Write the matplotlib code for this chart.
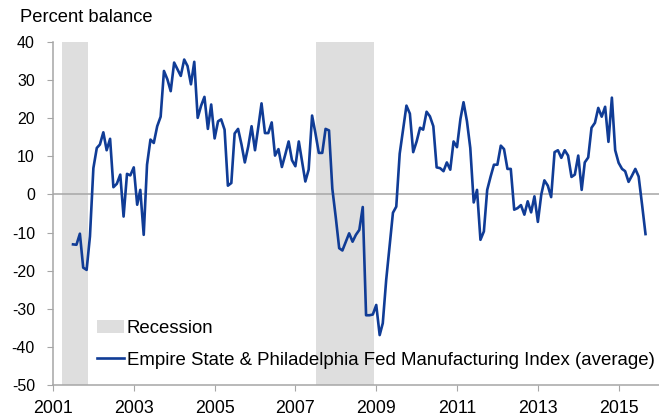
import matplotlib
matplotlib.use("Agg")
import matplotlib.pyplot as plt
import matplotlib.dates as mdates
from matplotlib.patches import Patch
from matplotlib.lines import Line2D
import pandas as pd

plt.rcParams["font.family"] = ["Liberation Sans", "DejaVu Sans"]
plt.rcParams["axes.unicode_minus"] = False

# monthly average of Empire State & Philly Fed indices, Jul 2001 - Sep 2015
start_month = "2001-07-01"
index_avg = [
    -13.1, -13.2, -10.3, -19.2, -19.8, -11.0,
    6.9, 12.2, 13.1, 16.3, 11.6, 14.6, 1.9, 2.8, 5.2, -5.8, 5.4, 5.0,
    7.1, -2.7, 1.2, -10.6, 7.8, 14.4, 13.5, 17.9, 20.4, 32.4, 30.2, 27.1,
    34.6, 32.8, 31.1, 35.4, 33.7, 28.9, 34.8, 20.1, 23.3, 25.6, 17.2, 23.6,
    14.7, 19.2, 19.7, 17.0, 2.3, 3.0, 16.0, 17.2, 13.1, 8.4, 12.6, 17.9,
    11.6, 17.9, 23.9, 16.1, 16.1, 18.9, 10.2, 11.9, 7.2, 10.4, 13.9, 9.0,
    7.4, 13.9, 9.0, 3.4, 6.5, 20.7, 16.1, 10.9, 10.9, 17.2, 16.8, 1.5,
    -6.0, -14.1, -14.7, -12.4, -10.2, -12.4, -10.6, -9.3, -3.3, -31.7, -31.7, -31.5,
    -29.0, -36.9, -33.8, -22.4, -13.7, -4.8, -3.2, 10.7, 17.0, 23.3, 21.2, 11.1,
    13.9, 17.5, 17.0, 21.7, 20.5, 17.9, 7.1, 6.9, 6.1, 8.4, 6.5, 13.9,
    12.4, 19.8, 24.2, 19.2, 12.2, -2.1, 1.2, -11.9, -9.7, 1.2, 4.7, 7.8,
    7.8, 12.8, 11.9, 6.7, 6.7, -4.0, -3.6, -2.8, -5.3, -1.8, -4.7, -0.5,
    -7.2, 0.0, 3.7, 2.3, -0.7, 11.1, 11.6, 9.6, 11.6, 10.2, 4.6, 5.2,
    10.2, 1.2, 8.4, 9.7, 17.5, 18.8, 22.7, 20.4, 23.0, 13.8, 25.4, 11.6,
    8.3, 6.7, 6.1, 3.3, 4.9, 6.7, 4.7, -2.7, -10.4,
]
recessions = [("2001-03-20", "2001-11-15"), ("2007-07-07", "2008-12-15")]
year_ticks = [2001, 2003, 2005, 2007, 2009, 2011, 2013, 2015]
y_ticks = [40, 30, 20, 10, 0, -10, -20, -30, -40, -50]

line_col = "#103c96"
shade_col = "#dedede"
axis_col = "#a6a6a6"

dates = pd.date_range(start_month, periods=len(index_avg), freq="MS")

fig = plt.figure(figsize=(6.59, 4.17), dpi=100)
ax = fig.add_axes([53 / 659, 1 - 385 / 417, 1 - 53 / 659, (385 - 42) / 417])

for a, b in recessions:
    ax.axvspan(pd.Timestamp(a), pd.Timestamp(b), color=shade_col, lw=0, zorder=0)
ax.axhline(0, color=axis_col, lw=1.1, zorder=1)
ax.plot(dates, index_avg, color=line_col, lw=1.9, zorder=3)

ax.set_xlim(pd.Timestamp("2001-01-01"), pd.Timestamp("2016-01-01"))
ax.set_ylim(-50, 40)
ax.set_yticks(y_ticks)
ax.set_yticklabels([str(v) for v in y_ticks], fontsize=11.5)
ax.set_xticks([pd.Timestamp(f"{y}-01-01") for y in year_ticks])
ax.xaxis.set_major_formatter(mdates.DateFormatter("%Y"))
ax.tick_params(axis="x", labelsize=12.8, length=4, color=axis_col, pad=7)
ax.tick_params(axis="y", length=4, color=axis_col, pad=9)

for side in ("top", "right"):
    ax.spines[side].set_visible(False)
for side in ("left", "bottom"):
    ax.spines[side].set_color(axis_col)
    ax.spines[side].set_linewidth(1.1)

fig.text(20 / 659, 1 - 18 / 417, "Percent balance", fontsize=13.2, va="center", ha="left")

handles = [
    Patch(facecolor=shade_col, edgecolor="none"),
    Line2D([0], [0], color=line_col, lw=1.9),
]
labels = ["Recession", "Empire State & Philadelphia Fed Manufacturing Index (average)"]
ax.legend(handles, labels, loc="upper left", bbox_to_anchor=(97 / 659, 1 - 320 / 417),
          bbox_transform=fig.transFigure, frameon=False, fontsize=13.4,
          borderpad=0, borderaxespad=0, handlelength=1.45, handletextpad=0.15,
          labelspacing=0.8)

fig.savefig("out.png", dpi=100)
